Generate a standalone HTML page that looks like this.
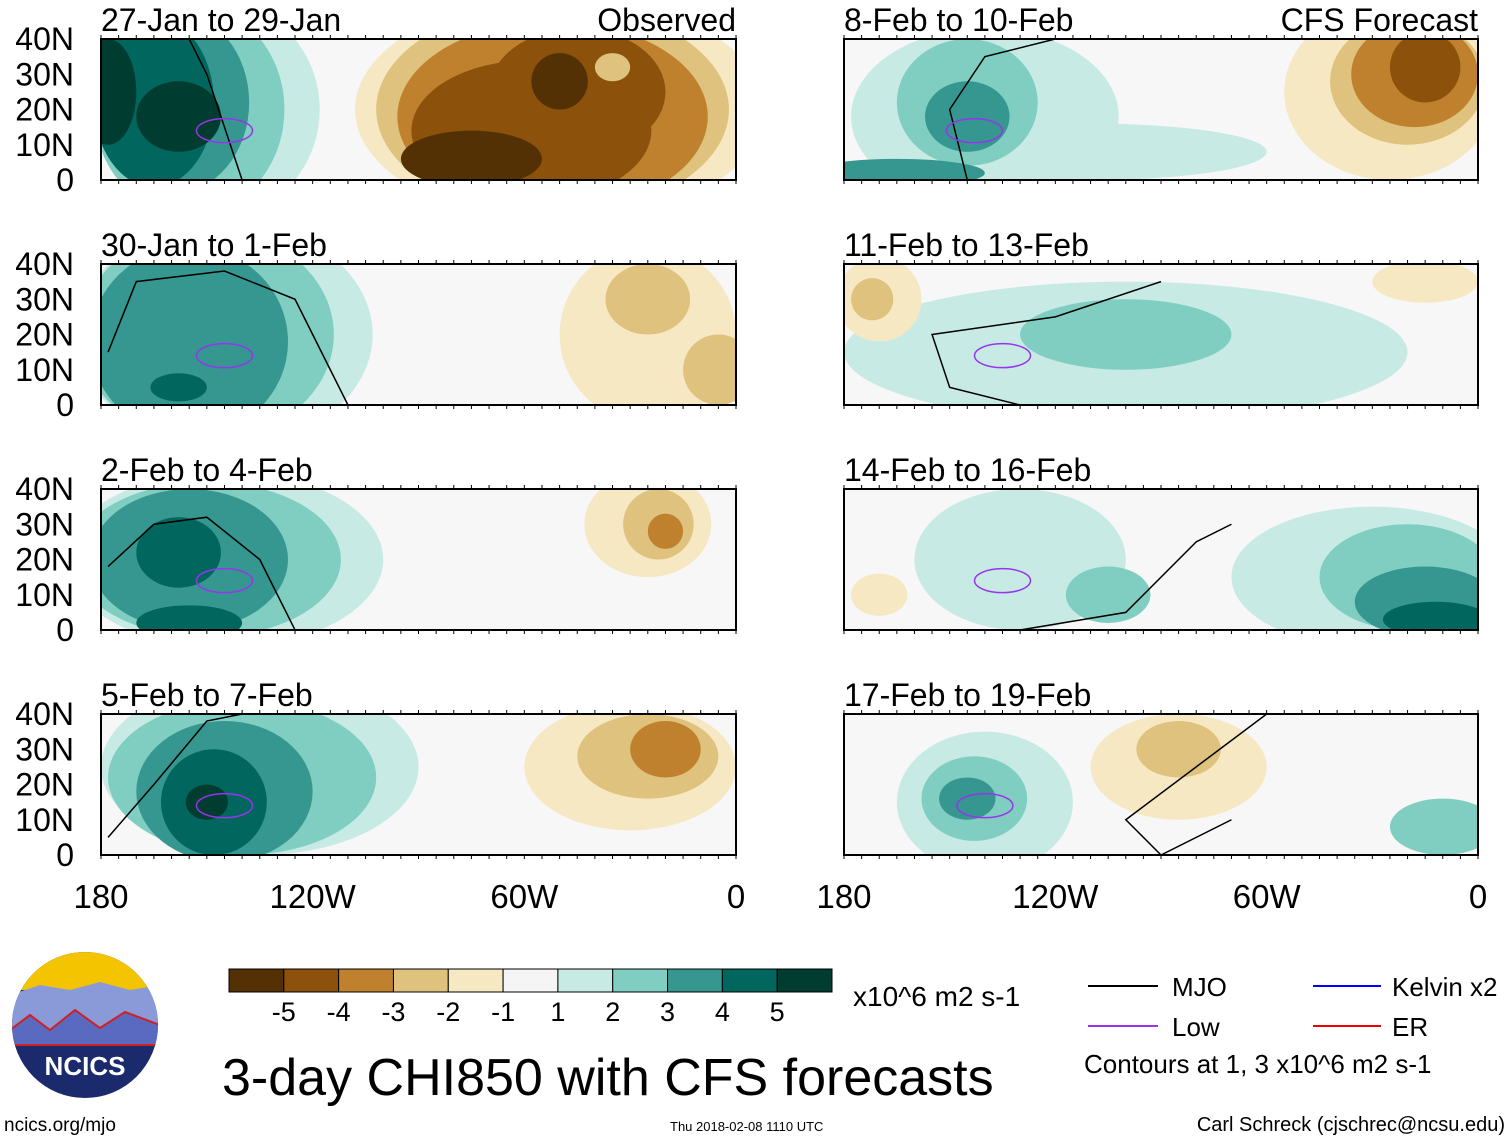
<!DOCTYPE html>
<html><head><meta charset="utf-8"><style>
body{margin:0;background:#fff;font-family:"Liberation Sans",sans-serif;}
svg{display:block}
text{font-family:"Liberation Sans",sans-serif;fill:#000}
</style></head><body>
<svg id="root" width="1510" height="1141" viewBox="0 0 1510 1141"></svg>
<script>
// colour levels -5..5
const levels=[-5,-4,-3,-2,-1,0,1,2,3,4,5];
const levelColors=["#543005","#8c510a","#bf812d","#dfc27d","#f6e8c3","#f5f5f5","#c7eae5","#80cdc1","#35978f","#01665e","#003c30"];
const panelTitles=["27-Jan to 29-Jan","30-Jan to 1-Feb","2-Feb to 4-Feb","5-Feb to 7-Feb","8-Feb to 10-Feb","11-Feb to 13-Feb","14-Feb to 16-Feb","17-Feb to 19-Feb"];
const latTicks=[40,30,20,10,0];
const latLabels=["40N","30N","20N","10N","0"];
const lonTicks=[180,120,60,0];
const lonLabels=["180","120W","60W","0"];
// blobs: [lonW, lat, rxDeg, ryDeg, level]
const blobs0=[[150,20,32,32,1],[155,20,27,30,2],[160,22,22,26,3],[165,22,17,24,4],[158,18,12,10,5],[178,25,8,15,5],[50,20,58,32,-1],[52,20,50,30,-2],[52,18,44,27,-3],[58,14,34,20,-4],[45,25,25,18,-4],[75,6,20,8,-5],[50,28,8,8,-5],[35,32,5,4,-2]];
const blobs1=[[145,20,42,32,1],[150,20,36,30,2],[155,18,28,27,3],[158,5,8,4,4],[25,20,25,25,-1],[25,30,12,10,-2],[5,10,10,10,-2]];
const blobs2=[[145,20,45,25,1],[150,20,38,22,2],[155,20,28,20,3],[158,22,12,10,4],[155,2,15,5,4],[25,30,18,15,-1],[22,30,10,10,-2],[20,28,5,5,-3]];
const blobs3=[[135,25,45,25,1],[140,22,38,22,2],[145,18,25,20,3],[148,15,15,15,4],[150,15,6,5,5],[30,25,30,18,-1],[25,28,20,12,-2],[20,30,10,8,-3]];
const blobs4=[[140,18,38,25,1],[110,8,50,8,1],[145,22,20,18,2],[145,18,12,10,3],[165,2,25,4,3],[25,25,30,25,-1],[20,28,22,18,-2],[18,30,18,15,-3],[15,32,10,10,-4]];
const blobs5=[[100,15,80,20,1],[100,20,30,10,2],[170,30,12,12,-1],[172,30,6,6,-2],[15,35,15,6,-1]];
const blobs6=[[130,20,30,20,1],[30,15,40,20,1],[20,15,25,15,2],[15,8,20,10,3],[12,3,15,5,4],[105,10,12,8,2],[170,10,8,6,-1]];
const blobs7=[[140,15,25,20,1],[143,16,15,12,2],[145,16,8,6,3],[85,25,25,15,-1],[85,30,12,8,-2],[10,8,15,8,2]];
const allBlobs=[blobs0,blobs1,blobs2,blobs3,blobs4,blobs5,blobs6,blobs7];
const lowCenters=[[145,14],[145,14],[145,14],[145,14],[143,14],[135,14],[135,14],[140,14]];
const mjoLines=[[[155,40],[150,30],[145,15],[140,0]],[[178,15],[170,35],[145,38],[125,30],[115,10],[110,0]],[[178,18],[165,30],[150,32],[135,20],[125,0]],[[178,5],[165,20],[150,38],[140,40]],[[145,0],[150,20],[140,35],[120,40]],[[130,0],[150,5],[155,20],[120,25],[90,35]],[[130,0],[100,5],[80,25],[70,30]],[[70,10],[90,0],[100,10],[60,40]]];

const NS="http://www.w3.org/2000/svg";
const root=document.getElementById('root');
function mk(tag,attrs,parent){const e=document.createElementNS(NS,tag);for(const k in attrs)e.setAttribute(k,attrs[k]);(parent||root).appendChild(e);return e;}
function panelBox(i){const col=i<4?0:1,row=i%4;return {x0:col?844:101,x1:col?1478:736,y0:39+row*225,y1:180+row*225};}
function xs(p,lon){return p.x0+(180-lon)/180*(p.x1-p.x0);}
function ys(p,lat){return p.y1-lat/40*(p.y1-p.y0);}
function colorOf(l){return levelColors[levels.indexOf(l)];}

for(let i=0;i<8;i++){
  const p=panelBox(i);
  const g=mk('g',{});
  
  
  const cp=mk('clipPath',{id:'cp'+i},g);
  mk('rect',{x:p.x0,y:p.y0,width:p.x1-p.x0,height:p.y1-p.y0},cp);
  const inner=mk('g',{'clip-path':'url(#cp'+i+')'},g);
  mk('rect',{x:p.x0,y:p.y0,width:p.x1-p.x0,height:p.y1-p.y0,fill:'#f7f7f7'},inner);
  allBlobs[i].forEach(b=>{
    const e=mk('ellipse',{cx:xs(p,b[0]),cy:ys(p,b[1]),rx:b[2]/180*(p.x1-p.x0),ry:b[3]/40*(p.y1-p.y0),fill:colorOf(b[4])},inner);
    
    
  });
  const ml=mk('polyline',{points:mjoLines[i].map(q=>xs(p,q[0])+','+ys(p,q[1])).join(' '),fill:'none',stroke:'#000','stroke-width':1.5},inner);
  
  
  const lc=lowCenters[i];
  const le=mk('ellipse',{cx:xs(p,lc[0]),cy:ys(p,lc[1]),rx:28,ry:12,fill:'none',stroke:'#9933ee','stroke-width':1.5},inner);
  
  
  mk('rect',{x:p.x0,y:p.y0,width:p.x1-p.x0,height:p.y1-p.y0,fill:'none',stroke:'#000','stroke-width':2},g);
  for(let t=0;t<=36;t++){const x=p.x0+t*(p.x1-p.x0)/36;mk('line',{x1:x,x2:x,y1:p.y0,y2:p.y0-4,stroke:'#000'},g);mk('line',{x1:x,x2:x,y1:p.y1,y2:p.y1+4,stroke:'#000'},g);}
  const tt=mk('text',{x:p.x0,y:p.y0-8,'font-size':32},g);tt.textContent=panelTitles[i];
  
  if(i===0){const o=mk('text',{x:736,y:31,'font-size':32,'text-anchor':'end'},g);o.textContent='Observed';}
  if(i===4){const o=mk('text',{x:1478,y:31,'font-size':32,'text-anchor':'end'},g);o.textContent='CFS Forecast';}
  if(i<4){latTicks.forEach((l,k)=>{const t=mk('text',{x:74,y:ys(p,l)+11,'font-size':32,'text-anchor':'end'},g);t.textContent=latLabels[k];});}
  if(i===3||i===7){lonTicks.forEach((l,k)=>{const t=mk('text',{x:xs(p,l),y:908,'font-size':33,'text-anchor':'middle'},g);t.textContent=lonLabels[k];});}
}
const cb=mk('g',{});
const cbx=229,cbw=603/11;
levelColors.forEach((c,k)=>{mk('rect',{x:cbx+k*cbw,y:969,width:cbw,height:23,fill:c,stroke:'#000','stroke-width':1},cb);});
const cbLabels=[-5,-4,-3,-2,-1,1,2,3,4,5];
cbLabels.forEach((v,k)=>{const t=mk('text',{x:cbx+(k+1)*cbw,y:1021,'font-size':27,'text-anchor':'middle'},cb);t.textContent=String(v);});
</script>
<div style="position:absolute;left:0;top:0;width:1510px;height:1141px;pointer-events:none">
<svg width="1510" height="1141" style="position:absolute;left:0;top:0">
<text x="853" y="1006" font-size="28">x10^6 m2 s-1</text>
<g>
<line x1="1088" y1="986" x2="1158" y2="986" stroke="#000" stroke-width="2"/><text x="1172" y="996" font-size="26">MJO</text>
<line x1="1313" y1="986" x2="1381" y2="986" stroke="#0000ff" stroke-width="2"/><text x="1392" y="996" font-size="26">Kelvin x2</text>
<line x1="1088" y1="1026" x2="1158" y2="1026" stroke="#9933ee" stroke-width="2"/><text x="1172" y="1036" font-size="26">Low</text>
<line x1="1313" y1="1026" x2="1381" y2="1026" stroke="#ee0000" stroke-width="2"/><text x="1392" y="1036" font-size="26">ER</text>
<text x="1084" y="1073" font-size="26">Contours at 1, 3 x10^6 m2 s-1</text>
</g>
<text x="222" y="1095" font-size="52">3-day CHI850 with CFS forecasts</text>
<text x="4" y="1131" font-size="19">ncics.org/mjo</text>
<text x="670" y="1131" font-size="13">Thu 2018-02-08 1110 UTC</text>
<text x="1505" y="1131" font-size="20" text-anchor="end">Carl Schreck (cjschrec@ncsu.edu)</text>
<g>
<clipPath id="lc"><circle cx="85" cy="1025" r="73"/></clipPath>
<g clip-path="url(#lc)">
<rect x="10" y="950" width="150" height="150" fill="#1a2a6c"/>
<rect x="10" y="950" width="150" height="40" fill="#f5c400"/>
<path d="M10 995 L40 985 L70 990 L100 982 L130 990 L160 985 L160 1030 L10 1030Z" fill="#8a9ad8"/>
<path d="M10 1030 L30 1015 L50 1030 L75 1010 L100 1028 L125 1012 L160 1025 L160 1045 L10 1045Z" fill="#5a6ac0" stroke="#d02020" stroke-width="2"/>
</g>
<text x="85" y="1075" font-size="26" font-weight="bold" text-anchor="middle" style="fill:#fff">NCICS</text>
</g>
</svg></div>
</body></html>
